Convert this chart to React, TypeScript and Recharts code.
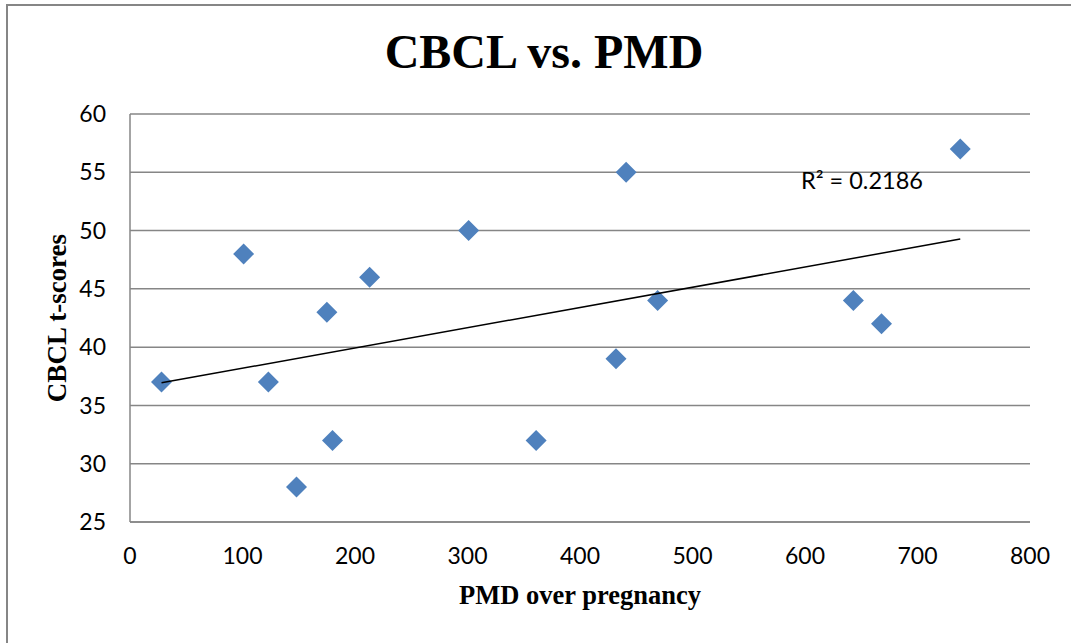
import {
  ScatterChart,
  Scatter,
  XAxis,
  YAxis,
  CartesianGrid,
  Label,
} from "recharts";

// PMD over pregnancy (x) and CBCL t-scores (y)
const pmdValues = [28, 101, 123, 148, 175, 180, 213, 301, 361, 432, 441, 469, 643, 668, 738];
const cbclScores = [37, 48, 37, 28, 43, 32, 46, 50, 32, 39, 55, 44, 44, 42, 57];

const xTicks = [0, 100, 200, 300, 400, 500, 600, 700, 800];
const yTicks = [25, 30, 35, 40, 45, 50, 55, 60];

const chartTitle = "CBCL vs. PMD";
const xTitle = "PMD over pregnancy";
const yTitle = "CBCL t-scores";
const rSquaredText = "R² = 0.2186";

const MARKER = "#4F81BD";
const GRID = "#868686";
const SERIF = "'Liberation Serif', 'Times New Roman', serif";
const SANS = "Lato, 'Open Sans', sans-serif";

const points = pmdValues.map((x, i) => ({ x, y: cbclScores[i] }));

// linear trendline (least squares), drawn from min x to max x like Excel does
const n = points.length;
const meanX = pmdValues.reduce((a, b) => a + b, 0) / n;
const meanY = cbclScores.reduce((a, b) => a + b, 0) / n;
let sxy = 0;
let sxx = 0;
points.forEach((p) => {
  sxy += (p.x - meanX) * (p.y - meanY);
  sxx += (p.x - meanX) * (p.x - meanX);
});
const slope = sxy / sxx;
const intercept = meanY - slope * meanX;
const minX = Math.min(...pmdValues);
const maxX = Math.max(...pmdValues);
const trendData = [
  { x: minX, y: intercept + slope * minX },
  { x: maxX, y: intercept + slope * maxX },
];

const Diamond = (props: any) => {
  const { cx, cy } = props;
  const r = 10.5;
  return (
    <polygon
      points={`${cx},${cy - r} ${cx + r},${cy} ${cx},${cy + r} ${cx - r},${cy}`}
      fill={MARKER}
    />
  );
};

const NoDot = () => <g />;

export default function App() {
  return (
    <div
      style={{
        position: "absolute",
        left: 0,
        top: 0,
        width: 1071,
        height: 643,
        overflow: "hidden",
        background: "#fff",
      }}
    >
      {/* outer chart-area border, right and bottom edges fall off the canvas */}
      <div
        style={{
          position: "absolute",
          left: 6,
          top: 4,
          width: 1100,
          height: 700,
          border: `2px solid ${GRID}`,
          boxSizing: "border-box",
        }}
      />
      <div style={{ position: "absolute", left: 0, top: 0 }}>
        <ScatterChart
          width={1071}
          height={643}
          margin={{ top: 114, right: 41, bottom: 31, left: 51 }}
        >
          <CartesianGrid vertical={false} stroke={GRID} strokeWidth={1.5} />
          <XAxis
            type="number"
            dataKey="x"
            domain={[0, 800]}
            ticks={xTicks}
            height={90}
            tickLine={false}
            tickSize={0}
            tickMargin={26}
            axisLine={{ stroke: GRID, strokeWidth: 1.5 }}
            tick={{ fill: "#000", fontSize: 23, fontFamily: SANS }}
          >
            <Label
              value={xTitle}
              position="insideBottom"
              offset={8}
              style={{
                fontFamily: SERIF,
                fontWeight: "bold",
                fontSize: 26.5,
                fill: "#000",
              }}
            />
          </XAxis>
          <YAxis
            type="number"
            dataKey="y"
            domain={[25, 60]}
            ticks={yTicks}
            width={79}
            tickLine={false}
            tickSize={0}
            tickMargin={24}
            axisLine={{ stroke: GRID, strokeWidth: 1.5 }}
            tick={{ fill: "#000", fontSize: 23, fontFamily: SANS }}
          >
            <Label
              value={yTitle}
              angle={-90}
              position="insideLeft"
              offset={5}
              style={{
                textAnchor: "middle",
                fontFamily: SERIF,
                fontWeight: "bold",
                fontSize: 27,
                fill: "#000",
              }}
            />
          </YAxis>
          <Scatter data={points} shape={<Diamond />} isAnimationActive={false} />
          <Scatter
            data={trendData}
            line={{ stroke: "#000", strokeWidth: 1.5 }}
            shape={<NoDot />}
            isAnimationActive={false}
          />
        </ScatterChart>
      </div>
      <svg
        width={1071}
        height={643}
        style={{ position: "absolute", left: 0, top: 0, pointerEvents: "none" }}
      >
        <text
          x={544}
          y={68}
          textAnchor="middle"
          fontFamily={SERIF}
          fontWeight="bold"
          fontSize={48}
          fill="#000"
        >
          {chartTitle}
        </text>
        <text x={801} y={189} fontFamily={SANS} fontSize={23.5} fill="#000">
          {rSquaredText}
        </text>
      </svg>
    </div>
  );
}
